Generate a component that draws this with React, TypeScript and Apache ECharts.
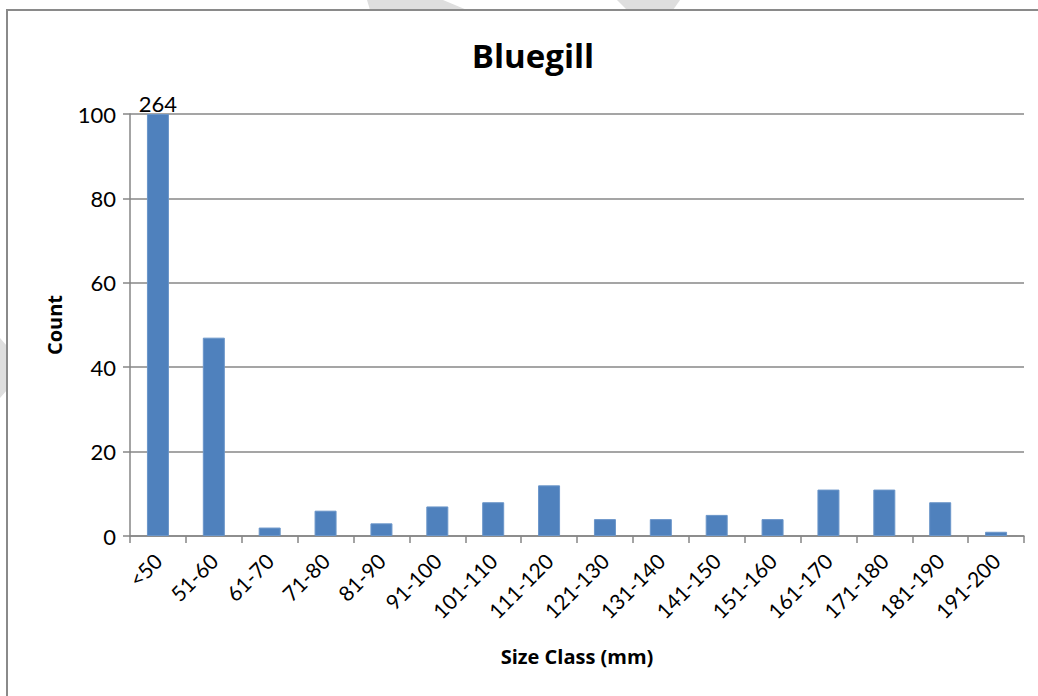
import React, { useEffect, useRef } from "react";
import * as echarts from "echarts";

const categories = [
  "<50", "51-60", "61-70", "71-80", "81-90", "91-100", "101-110", "111-120",
  "121-130", "131-140", "141-150", "151-160", "161-170", "171-180", "181-190", "191-200",
];
const counts = [264, 47, 2, 6, 3, 7, 8, 12, 4, 4, 5, 4, 11, 11, 8, 1];
const yMax = 100;
const yInterval = 20;

const FONT = "Lato, 'Open Sans', sans-serif";
const BOLD_FONT = "'Open Sans', Lato, sans-serif";

export default function App() {
  const ref = useRef<HTMLDivElement>(null);
  useEffect(() => {
    if (!ref.current) return;
    const chart = echarts.init(ref.current, undefined, { renderer: "svg" });
    chart.setOption({
      animation: false,
      backgroundColor: "#ffffff",
      title: {
        text: "Bluegill",
        left: 528,
        textAlign: "center",
        top: 34,
        textStyle: { fontFamily: BOLD_FONT, fontSize: 33, fontWeight: "bold", color: "#000" },
      },
      grid: { left: 130, right: 14, top: 114, bottom: 160, containLabel: false },
      xAxis: {
        type: "category",
        data: categories,
        name: "Size Class (mm)",
        nameLocation: "middle",
        nameGap: 110,
        nameTextStyle: { fontFamily: BOLD_FONT, fontSize: 20, fontWeight: "bold", color: "#000" },
        axisLine: { lineStyle: { color: "#868686", width: 1.5 } },
        axisTick: { show: true, length: 7, lineStyle: { color: "#868686", width: 1.5 } },
        axisLabel: {
          rotate: 45,
          margin: 21,
          fontFamily: FONT,
          fontSize: 21,
          color: "#000",
          interval: 0,
        },
      },
      yAxis: {
        type: "value",
        min: 0,
        max: yMax,
        interval: yInterval,
        name: "Count",
        nameLocation: "middle",
        nameGap: 66,
        nameRotate: 90,
        nameTextStyle: { fontFamily: BOLD_FONT, fontSize: 20, fontWeight: "bold", color: "#000" },
        axisLine: { show: true, lineStyle: { color: "#868686", width: 1.5 } },
        axisTick: { show: true, length: 7, lineStyle: { color: "#868686", width: 1.5 } },
        axisLabel: { margin: 14, fontFamily: FONT, fontSize: 22, color: "#000" },
        splitLine: { show: true, lineStyle: { color: "#878787", width: 1.5 } },
      },
      series: [
        {
          type: "bar",
          data: counts.map((v) => ({ value: Math.min(v, yMax), raw: v })),
          barWidth: 22,
          itemStyle: { color: "#4F81BD", borderColor: "#6a95c9", borderWidth: 1 },
          label: {
            show: true,
            position: "top",
            distance: 0,
            fontFamily: FONT,
            fontSize: 22,
            color: "#000",
            formatter: (p: any) => (p.data.raw > yMax ? String(p.data.raw) : ""),
          },
        },
      ],
      graphic: [
        {
          type: "polygon",
          shape: { points: [[367, 0], [443, 0], [467, 10], [370, 10]] },
          style: { fill: "#dedede" },
          z: 1,
        },
        {
          type: "polygon",
          shape: { points: [[617, 0], [680, 0], [673, 10], [627, 10]] },
          style: { fill: "#dedede" },
          z: 1,
        },
        {
          type: "polygon",
          shape: { points: [[0, 338], [7, 346], [7, 390], [0, 398]] },
          style: { fill: "#dedede" },
          z: 1,
        },
        {
          type: "rect",
          shape: { x: 7, y: 10, width: 1200, height: 800 },
          style: { fill: "none", stroke: "#8a8a8a", lineWidth: 2 },
          z: 2,
        },
      ],
    });
    return () => chart.dispose();
  }, []);
  return (
    <div
      ref={ref}
      style={{ position: "fixed", left: 0, top: 0, width: 1038, height: 696, background: "#fff" }}
    />
  );
}
